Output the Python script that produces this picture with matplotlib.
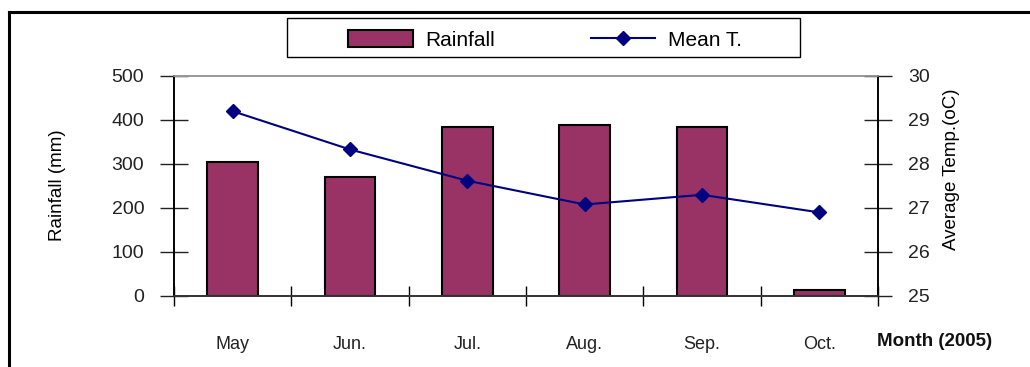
import numpy as np
import matplotlib.pyplot as plt
from matplotlib.lines import Line2D
from matplotlib.patches import Rectangle

plt.rcParams['font.family'] = ['Liberation Sans', 'DejaVu Sans']

# data
months = ['May', 'Jun.', 'Jul.', 'Aug.', 'Sep.', 'Oct.']
rainfall = [305, 270, 385, 389, 385, 14]
mean_temp = [29.2, 28.33, 27.62, 27.08, 27.3, 26.9]

BAR_COLOR = '#993366'
LINE_COLOR = '#000080'
W, H = 1030, 367

fig = plt.figure(figsize=(W / 100, H / 100), dpi=100)
ax = fig.add_axes([174 / W, 71 / H, 704 / W, 220 / H])
ax2 = ax.twinx()

x = np.arange(len(months))
bars = ax.bar(x, rainfall, width=0.43, color=BAR_COLOR, edgecolor='black',
              linewidth=1.5, zorder=2, label='Rainfall')
line, = ax2.plot(x, mean_temp, color=LINE_COLOR, lw=1.5, marker='D',
                 markersize=7, label='Mean T.', zorder=3)

ax.set_xlim(-0.5, len(months) - 0.5)
ax.set_ylim(0, 500)
ax2.set_ylim(25, 30)
ax.set_yticks(range(0, 501, 100))
ax2.set_yticks(range(25, 31))

# category labels centred, ticks at boundaries
ax.set_xticks(x)
ax.set_xticklabels(months)
ax.set_xticks(np.arange(-0.5, len(months)), minor=True)
ax.tick_params(axis='x', which='major', length=0, pad=29, labelsize=13,
               colors='#222222')
ax.tick_params(axis='x', which='minor', direction='inout', length=15, width=1)
ax.tick_params(axis='y', direction='inout', length=20, width=1, pad=11.5,
               labelsize=14, colors='#222222')
ax2.tick_params(axis='y', direction='inout', length=20, width=1, pad=11.5,
                labelsize=14, colors='#222222')

for a in (ax, ax2):
    a.spines['top'].set_color('#999999')
    a.spines['left'].set_color('black')
    a.spines['right'].set_color('black')
    a.spines['bottom'].set_color('#333333')
    for s in a.spines.values():
        s.set_linewidth(1.2)

fig.text(58 / W, 1 - 185 / H, 'Rainfall (mm)', rotation=90,
         ha='center', va='center', fontsize=13.5)
fig.text(952 / W, 1 - 169 / H, 'Average Temp.(oC)', rotation=90,
         ha='center', va='center', fontsize=13.5)
fig.text(877 / W, 1 - 341 / H, 'Month (2005)', ha='left',
         va='center', fontsize=13.5, fontweight='bold', color='#111111')

# legend box drawn separately, entries centred inside
fig.add_artist(Rectangle((287 / W, 1 - 57 / H), 513 / W, 39 / H,
                         transform=fig.transFigure, fill=False,
                         edgecolor='black', lw=1))
leg = fig.legend([bars, line], ['Rainfall', 'Mean T.'], ncol=2,
                 loc='center', bbox_to_anchor=(545 / W, 1 - 40 / H),
                 frameon=False, handlelength=3.1, handleheight=0.85,
                 handletextpad=0.6, columnspacing=4.6, fontsize=15,
                 borderaxespad=0)

# outer frame (left and top edges)
fig.add_artist(Line2D([9 / W, 9 / W], [0, 1 - 12 / H],
                      color='black', lw=2.2))
fig.add_artist(Line2D([9 / W, 1], [1 - 12 / H, 1 - 12 / H],
                      color='black', lw=2.2))

fig.savefig('out.png', dpi=100)
